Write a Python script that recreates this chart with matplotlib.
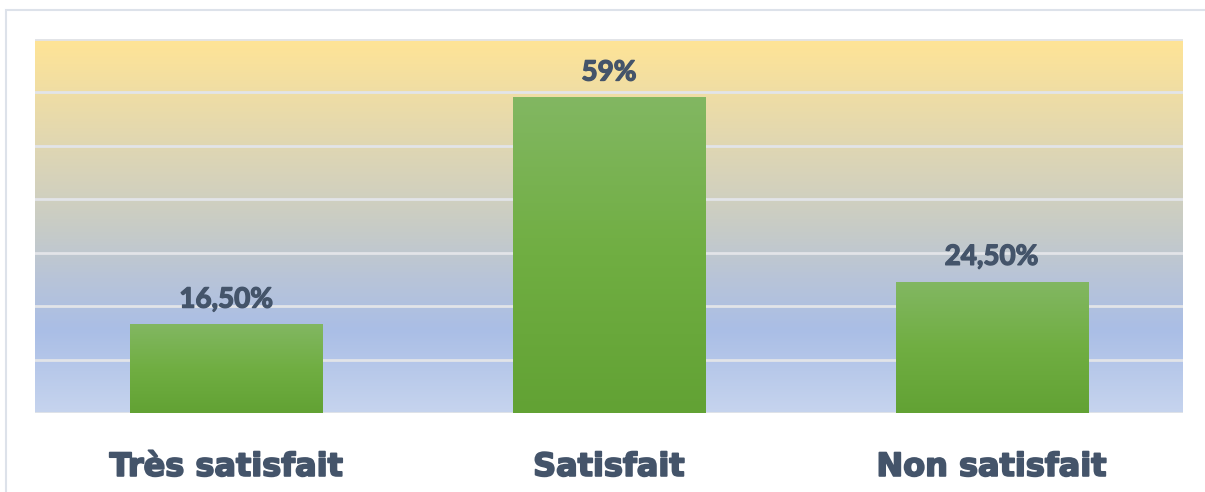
import numpy as np
import matplotlib
matplotlib.use("Agg")
import matplotlib.pyplot as plt
from matplotlib.colors import LinearSegmentedColormap
from matplotlib.patches import Rectangle
import matplotlib.patheffects as pe

categories = ["Très satisfait", "Satisfait", "Non satisfait"]
values = [16.5, 59, 24.5]
value_labels = ["16,50%", "59%", "24,50%"]

fig = plt.figure(figsize=(12.05, 4.92), dpi=100)
fig.patch.set_facecolor("white")

# outer border
fig.patches.append(Rectangle((6 / 1205, -0.1), 1.2, 1 - 10 / 492 + 0.1,
                             transform=fig.transFigure, fill=False,
                             edgecolor="#DDE2EA", linewidth=1.5))

ax = fig.add_axes([35 / 1205, 1 - 413 / 492, 1148 / 1205, 374 / 492])
ymax = 70
ax.set_xlim(-0.5, 2.5)
ax.set_ylim(0, ymax)

# background gradient (top yellow -> bottom blue)
bg = LinearSegmentedColormap.from_list("bg", [
    (0.0, "#FFE496"), (0.3, "#DED6B4"), (0.5, "#C8CCC6"),
    (0.64, "#B8C4D8"), (0.78, "#AABEE6"), (1.0, "#C6D4EE")])
grad = np.linspace(0, 1, 256).reshape(-1, 1)
ax.imshow(grad, cmap=bg, aspect="auto", extent=(-0.5, 2.5, 0, ymax),
          zorder=0, origin="upper")

for y in np.arange(0, ymax + 1, 10):
    ax.axhline(y, color="#E2E4E8", linewidth=2, zorder=1)

gcm = LinearSegmentedColormap.from_list("bar", ["#82B762", "#70AE42", "#62A234"])
bars = ax.bar(range(len(categories)), values, width=0.502, color="none", zorder=2)
for b, lab in zip(bars, value_labels):
    x0, w, h = b.get_x(), b.get_width(), b.get_height()
    ax.imshow(grad, cmap=gcm, aspect="auto", extent=(x0, x0 + w, 0, h),
              zorder=2, origin="upper")
    ax.text(x0 + w / 2, h + 2.3, lab, ha="center", va="bottom",
            fontsize=20, fontweight="bold", color="#44546A", family="Lato", zorder=3,
            path_effects=[pe.withStroke(linewidth=1.0, foreground="#44546A")])

ax.set_xlim(-0.5, 2.5)
ax.set_ylim(0, ymax)
ax.set_xticks(range(len(categories)))
ax.set_xticklabels(categories)
for t in ax.get_xticklabels():
    t.set_fontsize(23)
    t.set_fontweight("bold")
    t.set_color("#44546A")
    t.set_family("DejaVu Sans")
    t.set_path_effects([pe.withStroke(linewidth=1.3, foreground="#44546A")])
ax.tick_params(axis="x", length=0, pad=28)
ax.set_yticks([])
for s in ax.spines.values():
    s.set_visible(False)

fig.savefig("out.png", dpi=100)
